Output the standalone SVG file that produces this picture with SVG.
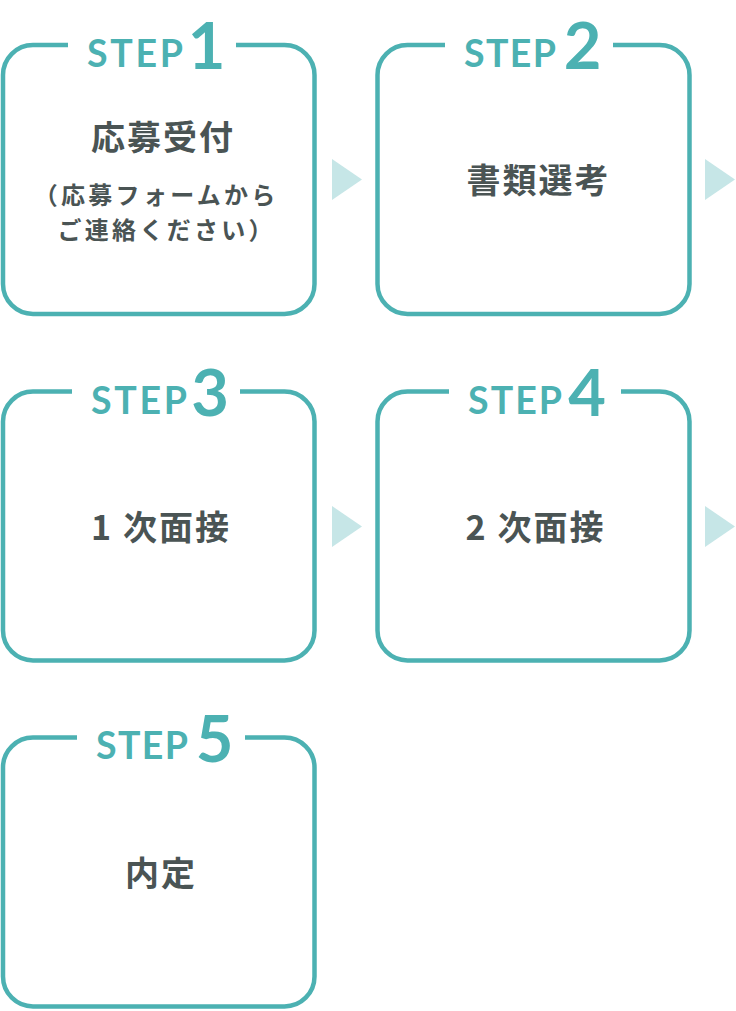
<svg xmlns="http://www.w3.org/2000/svg" width="736" height="1011" viewBox="0 0 736 1011">
  <style>
    .box { fill: none; stroke: #4cb1b2; stroke-width: 4.5; stroke-linecap: butt; }
    .step { font-family: Lato, "Open Sans", sans-serif; font-weight: 700; font-size: 37.5px; fill: #4cb1b2; }
    .num { font-family: Lato, "Open Sans", sans-serif; font-weight: 700; font-size: 65px; fill: #4cb1b2; text-anchor: middle; }
    .title { font-family: "Noto Sans CJK JP", sans-serif; font-weight: 700; font-size: 34px; letter-spacing: 2px; fill: #4a5454; text-anchor: middle; }
    .sub { font-family: "Noto Sans CJK JP", sans-serif; font-weight: 700; font-size: 24px; letter-spacing: 3.3px; fill: #4a5454; }
    .arrow { fill: #c6e6e7; }
  </style>
  <rect width="736" height="1011" fill="#ffffff"/>

  <g id="connectors">
    <polygon class="arrow" points="332,159 362,179.5 332,200"/>
    <polygon class="arrow" points="705,159 735,179.5 705,200"/>
    <polygon class="arrow" points="332,506 362,526.5 332,547"/>
    <polygon class="arrow" points="705,506 735,526.5 705,547"/>
  </g>

  <g id="step1">
    <path class="box" d="M236,45 H284.5 A30,30 0 0 1 314.5,75 V284 A30,30 0 0 1 284.5,314 H33 A30,30 0 0 1 3,284 V75 A30,30 0 0 1 33,45 H68"/>
    <text class="step" x="87" y="67" textLength="96" lengthAdjust="spacing">STEP</text>
    <text class="num" x="206.5" y="69">1</text>
    <text class="title" x="163" y="150">応募受付</text>
    <text class="sub" x="33.7" y="203.5">（応募フォームから</text>
    <text class="sub" x="57.5" y="238.5">ご連絡ください）</text>
  </g>

  <g id="step2">
    <path class="box" d="M613,45 H659.5 A30,30 0 0 1 689.5,75 V284 A30,30 0 0 1 659.5,314 H407.5 A30,30 0 0 1 377.5,284 V75 A30,30 0 0 1 407.5,45 H445"/>
    <text class="step" x="464" y="67" textLength="92" lengthAdjust="spacing">STEP</text>
    <text class="num" x="582.5" y="69">2</text>
    <text class="title" x="538.5" y="193">書類選考</text>
  </g>

  <g id="step3">
    <path class="box" d="M240,391.5 H284.5 A30,30 0 0 1 314.5,421.5 V630.5 A30,30 0 0 1 284.5,660.5 H33 A30,30 0 0 1 3,630.5 V421.5 A30,30 0 0 1 33,391.5 H72"/>
    <text class="step" x="91" y="413.5" textLength="96" lengthAdjust="spacing">STEP</text>
    <text class="num" x="210" y="415.5">3</text>
    <text class="title" x="161" y="539.5">1 次面接</text>
  </g>

  <g id="step4">
    <path class="box" d="M621,391.5 H659.5 A30,30 0 0 1 689.5,421.5 V630.5 A30,30 0 0 1 659.5,660.5 H407.5 A30,30 0 0 1 377.5,630.5 V421.5 A30,30 0 0 1 407.5,391.5 H449"/>
    <text class="step" x="468" y="413.5" textLength="94" lengthAdjust="spacing">STEP</text>
    <text class="num" x="587" y="415.5">4</text>
    <text class="title" x="535.5" y="539.5">2 次面接</text>
  </g>

  <g id="step5">
    <path class="box" d="M245,737.5 H284.5 A30,30 0 0 1 314.5,767.5 V976.5 A30,30 0 0 1 284.5,1006.5 H33 A30,30 0 0 1 3,976.5 V767.5 A30,30 0 0 1 33,737.5 H77"/>
    <text class="step" x="96" y="759" textLength="92" lengthAdjust="spacing">STEP</text>
    <text class="num" x="214.5" y="762">5</text>
    <text class="title" x="161" y="885.5">内定</text>
  </g>
</svg>
